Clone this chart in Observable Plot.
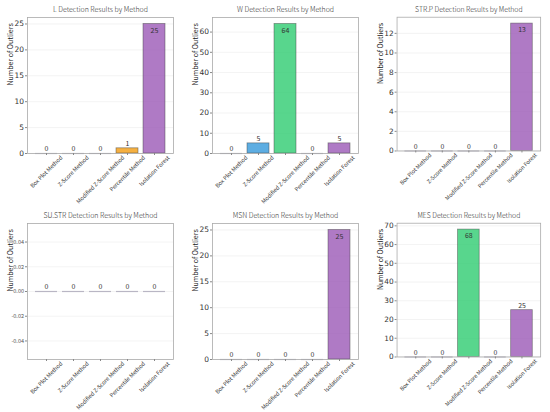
<!DOCTYPE html>
<html><head><meta charset="utf-8">
<script src="https://cdn.jsdelivr.net/npm/d3@7"></script>
<script src="https://cdn.jsdelivr.net/npm/@observablehq/plot@0.6"></script>
<style>
body{margin:0;background:#fff}
#root{position:relative;width:550px;height:412px;background:#fff;overflow:hidden}
.cell{position:absolute}
</style>
</head><body><div id="root"></div>
<script>
const methods = ["Box Plot Method","Z-Score Method","Modified Z-Score Method","Percentile Method","Isolation Forest"];
const colors = ["#e74c3c","#3498db","#2ecc71","#f39c12","#9b59b6"];
const variables = ["L","W","STR.P","SU.STR","MSN","MES"];
const L = [0,0,0,1,25];
const W = [0,5,64,0,5];
const STRP = [0,0,0,0,13];
const SUSTR = [0,0,0,0,0];
const MSN = [0,0,0,0,25];
const MES = [0,0,68,0,25];
const series = [L, W, STRP, SUSTR, MSN, MES];
const yTicksL = [0,5,10,15,20,25];
const yTicksW = [0,10,20,30,40,50,60];
const yTicksSTRP = [0,2,4,6,8,10,12];
const yTicksSUSTR = [-0.04,-0.02,0,0.02,0.04];
const yTicksMSN = [0,5,10,15,20,25];
const yTicksMES = [0,10,20,30,40,50,60,70];
const tickSets = [yTicksL, yTicksW, yTicksSTRP, yTicksSUSTR, yTicksMSN, yTicksMES];

const root = document.getElementById("root");
const FONT = "'Noto Sans CJK SC', 'DejaVu Sans', sans-serif";
const XFS = 5.6;
const ctx = document.createElement("canvas").getContext("2d");
ctx.font = `${XFS}px 'Noto Sans CJK SC'`;
const halfDiag = m => (ctx.measureText(m).width * Math.SQRT1_2 + XFS * 0.8 * Math.SQRT1_2) / 2;

variables.forEach((name, k) => {
  const vals = series[k];
  const rows = methods.map((m, i) => ({method: m, value: vals[i], color: colors[i]}));
  const max = d3.max(vals);
  const domain = max > 0 ? [0, max * 1.05] : [-0.055, 0.055];
  const ticks = tickSets[k];
  const fmt = max > 0 ? (d => String(d)) : (d => d.toFixed(2));
  const inside = rows.filter(d => max > 0 && d.value === max);
  const above = rows.filter(d => !(max > 0 && d.value === max));
  const xLabels = methods.map(m => Plot.text([m], {
    x: d => d, text: d => d, frameAnchor: "bottom", textAnchor: "middle", lineAnchor: "middle",
    rotate: -45, dy: 1.8 + halfDiag(m), fontSize: XFS, fill: "#333"
  }));
  const chart = Plot.plot({
    width: 183, height: 206,
    marginLeft: 27, marginRight: 10, marginTop: 17, marginBottom: 53,
    style: {fontFamily: FONT, background: "transparent", overflow: "visible"},
    x: {type: "band", domain: methods, paddingInner: 0.2, paddingOuter: 0.24, axis: null},
    y: {domain, axis: null},
    color: {type: "identity"},
    marks: [
      Plot.gridY(ticks, {stroke: "#ddd", strokeOpacity: 0.6, strokeWidth: 0.6}),
      Plot.barY(rows, {x: "method", y: "value", fill: "color", fillOpacity: 0.8, stroke: "#444", strokeOpacity: 0.55, strokeWidth: 0.8}),
      Plot.tickY(rows.filter(d => d.value === 0), {x: "method", y: "value", stroke: "#b9b6c4", strokeWidth: 1.2}),
      Plot.text(above, {x: "method", y: "value", text: d => String(d.value), dy: -4.5, fontSize: 7, fill: "#333"}),
      Plot.text(inside, {x: "method", y: "value", text: d => String(d.value), dy: 6.5, fontSize: 7, fill: "#333"}),
      Plot.frame({stroke: "#aaa", strokeWidth: 0.8}),
      Plot.axisX({tickSize: 2, text: null, label: null, stroke: "#888"}),
      ...xLabels,
      Plot.axisY({ticks, tickSize: 2, tickPadding: 1.5, fontSize: max > 0 ? 7.5 : 5.5, label: null, tickFormat: fmt, fontFamily: max > 0 ? "'DejaVu Sans', sans-serif" : FONT, stroke: "#888", fill: max > 0 ? "#333" : "#555"}),
      Plot.text([`${name} Detection Results by Method`], {text: d => d, frameAnchor: "top", dy: -10, fontSize: 7, fill: "#333", fontWeight: 300}),
      Plot.text(["Number of Outliers"], {text: d => d, frameAnchor: "left", rotate: -90, dx: -17, fontSize: 7, fill: "#222"})
    ]
  });
  const cell = document.createElement("div");
  cell.className = "cell";
  cell.style.left = [0, 185, 370][k % 3] + "px";
  cell.style.top = (k < 3 ? 0 : 206) + "px";
  cell.appendChild(chart);
  root.appendChild(cell);
});
</script>
</body></html>
